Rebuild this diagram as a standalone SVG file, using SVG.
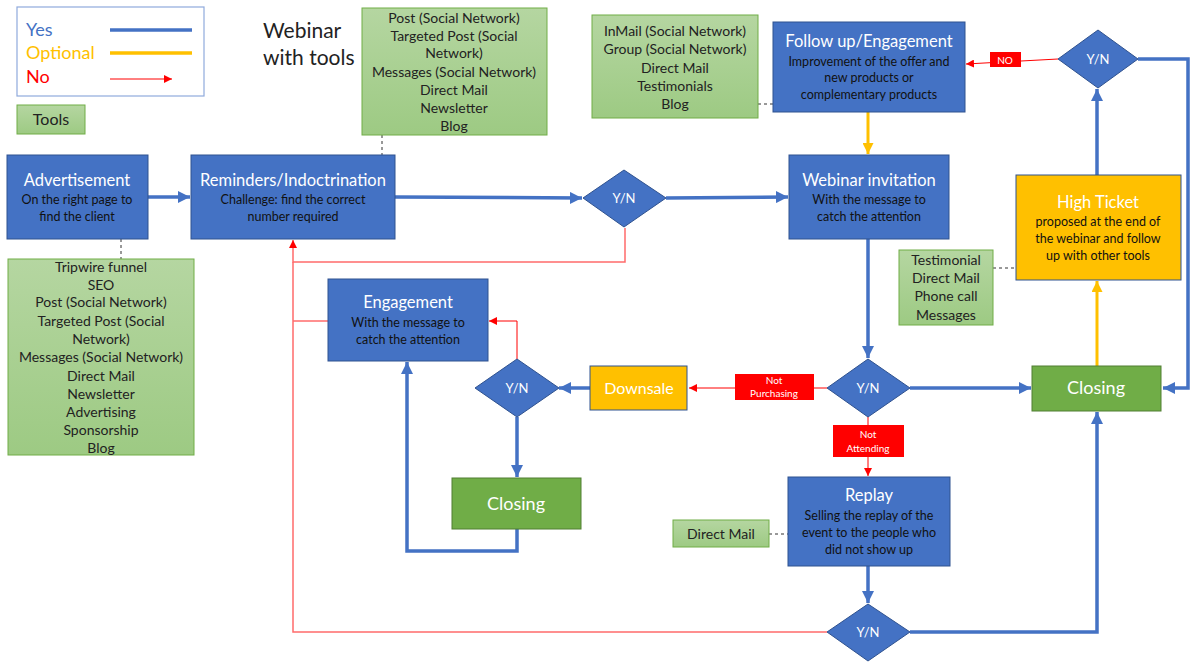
<svg xmlns="http://www.w3.org/2000/svg" width="1195" height="662" viewBox="0 0 1195 662">
<style>
text{font-family:Lato,"Liberation Sans",sans-serif;text-anchor:middle}
.blue{fill:#4472C4;stroke:#2F528F;stroke-width:1}
.green{fill:#70AD47;stroke:#507E32;stroke-width:1}
.yellow{fill:#FFC000;stroke:#2F528F;stroke-width:1}
.tool{fill:url(#tg);stroke:#70AD47;stroke-width:1}
.t{fill:#fff;font-size:16.5px}
.s{fill:#111;font-size:12.5px}
.tt{fill:#222;font-size:14px}
.cb{fill:none;stroke:#4472C4;stroke-width:3.5}
.cy{fill:none;stroke:#FFC000;stroke-width:3}
.cr{fill:none;stroke:#FF0000;stroke-width:1}
.cp{fill:none;stroke:#FF6B6B;stroke-width:1.5}
.dash{fill:none;stroke:#333;stroke-width:1;stroke-dasharray:3,3}
.lab{fill:#FF0000}
.lt{fill:#fff;font-size:10px}
.yn{fill:#fff;font-size:13px}
</style>
<defs>
<linearGradient id="tg" x1="0" y1="0" x2="0" y2="1"><stop offset="0" stop-color="#B5D6A1"/><stop offset="1" stop-color="#9DCA83"/></linearGradient>
<marker id="ab" viewBox="0 0 10 10" refX="10" refY="5" markerWidth="12" markerHeight="12" markerUnits="userSpaceOnUse" orient="auto"><path d="M0,0 L10,5 L0,10 z" fill="#4472C4"/></marker>
<marker id="ay" viewBox="0 0 10 10" refX="10" refY="5" markerWidth="11" markerHeight="11" markerUnits="userSpaceOnUse" orient="auto"><path d="M0,0 L10,5 L0,10 z" fill="#FFC000"/></marker>
<marker id="ar" viewBox="0 0 10 10" refX="10" refY="5" markerWidth="8" markerHeight="8" markerUnits="userSpaceOnUse" orient="auto"><path d="M0,0 L10,5 L0,10 z" fill="#FF0000"/></marker>
</defs>

<g id="legend">
<rect x="17" y="7" width="187" height="89" fill="#fff" stroke="#8FAADC" stroke-width="1.2"/>
<text x="26" y="36" style="text-anchor:start;font-size:18px;fill:#4472C4">Yes</text>
<text x="26" y="59" style="text-anchor:start;font-size:18px;fill:#FFC000">Optional</text>
<text x="26" y="83" style="text-anchor:start;font-size:18px;fill:#FF0000">No</text>
<line x1="110" y1="30" x2="192" y2="30" stroke="#4472C4" stroke-width="3.5"/>
<line x1="110" y1="53" x2="192" y2="53" stroke="#FFC000" stroke-width="3.5"/>
<line x1="110" y1="79" x2="172" y2="79" class="cr" marker-end="url(#ar)"/>
</g>
<g id="legend-tools"><rect x="17" y="105" width="68" height="29" class="tool"/><text x="51" y="125" style="font-size:16px;fill:#222">Tools</text></g>
<g id="title"><text x="263" y="38" style="text-anchor:start;font-size:21px;fill:#222">Webinar</text><text x="263" y="65" style="text-anchor:start;font-size:21px;fill:#222">with tools</text></g>

<g id="connectors">
<line x1="148" y1="197" x2="190" y2="197" class="cb" marker-end="url(#ab)"/>
<line x1="395" y1="197" x2="582" y2="198" class="cb" marker-end="url(#ab)"/>
<line x1="666" y1="198" x2="788" y2="197" class="cb" marker-end="url(#ab)"/>
<polyline points="625,228 625,262 293,262 293,240" class="cp" marker-end="url(#ar)"/>
<polyline points="827,632 293,632 293,262" class="cp"/>
<line x1="293" y1="321" x2="328" y2="321" class="cp"/>
<polyline points="517,359 517,321 489,321" class="cr" marker-end="url(#ar)"/>
<line x1="590" y1="388" x2="559" y2="388" class="cb" marker-end="url(#ab)"/>
<line x1="517" y1="417" x2="517" y2="477" class="cb" marker-end="url(#ab)"/>
<polyline points="517,529 517,551 407,551 407,362" class="cb" marker-end="url(#ab)"/>
<line x1="827" y1="388" x2="689" y2="388" class="cr" marker-end="url(#ar)"/>
<line x1="868" y1="239" x2="868" y2="358" class="cb" marker-end="url(#ab)"/>
<line x1="910" y1="388" x2="1031" y2="388" class="cb" marker-end="url(#ab)"/>
<line x1="868" y1="417" x2="868" y2="476" class="cr" marker-end="url(#ar)"/>
<line x1="868" y1="566" x2="868" y2="603" class="cb" marker-end="url(#ab)"/>
<polyline points="910,632 1097,632 1097,412" class="cb" marker-end="url(#ab)"/>
<line x1="1097" y1="366" x2="1097" y2="281" class="cy" marker-end="url(#ay)"/>
<line x1="1097" y1="175" x2="1097" y2="89" class="cb" marker-end="url(#ab)"/>
<polyline points="1138,59 1188,59 1188,388 1163,388" class="cb" marker-end="url(#ab)"/>
<line x1="1058" y1="59" x2="966" y2="64" class="cr" marker-end="url(#ar)"/>
<line x1="868" y1="112" x2="868" y2="154" class="cy" marker-end="url(#ay)"/>
<line x1="382" y1="135" x2="382" y2="155" class="dash"/>
<line x1="121" y1="239" x2="121" y2="259" class="dash"/>
<line x1="758" y1="104" x2="773" y2="104" class="dash"/>
<line x1="993" y1="268" x2="1016" y2="268" class="dash"/>
<line x1="769" y1="534" x2="788" y2="534" class="dash"/>
</g>

<g id="labels">
<rect x="735" y="374" width="79" height="26" class="lab"/><text x="774" y="384" class="lt">Not</text><text x="774" y="397" class="lt">Purchasing</text>
<rect x="833" y="425" width="71" height="32" class="lab"/><text x="868" y="438" class="lt">Not</text><text x="868" y="452" class="lt">Attending</text>
<rect x="990" y="52" width="31" height="15" class="lab"/><text x="1005" y="63.5" class="lt">NO</text>
</g>

<g id="tools-top">
<rect x="362" y="8" width="185" height="127" class="tool"/>
<text x="454" y="23" class="tt">Post (Social Network)</text>
<text x="454" y="41" class="tt">Targeted Post  (Social</text>
<text x="454" y="58" class="tt">Network)</text>
<text x="454" y="77" class="tt">Messages (Social Network)</text>
<text x="454" y="95" class="tt">Direct Mail</text>
<text x="454" y="113" class="tt">Newsletter</text>
<text x="454" y="131" class="tt">Blog</text>
</g>
<g id="tools-ad">
<rect x="8" y="259" width="186" height="196" class="tool"/>
<text x="101" y="272" class="tt">Tripwire funnel</text>
<text x="101" y="290" class="tt">SEO</text>
<text x="101" y="307" class="tt">Post (Social Network)</text>
<text x="101" y="326" class="tt">Targeted Post  (Social</text>
<text x="101" y="344" class="tt">Network)</text>
<text x="101" y="362" class="tt">Messages (Social Network)</text>
<text x="101" y="381" class="tt">Direct Mail</text>
<text x="101" y="399" class="tt">Newsletter</text>
<text x="101" y="417" class="tt">Advertising</text>
<text x="101" y="435" class="tt">Sponsorship</text>
<text x="101" y="453" class="tt">Blog</text>
</g>
<g id="tools-follow">
<rect x="592" y="15" width="166" height="103" class="tool"/>
<text x="675" y="36" class="tt">InMail (Social Network)</text>
<text x="675" y="54" class="tt">Group  (Social Network)</text>
<text x="675" y="73" class="tt">Direct Mail</text>
<text x="675" y="91" class="tt">Testimonials</text>
<text x="675" y="109" class="tt">Blog</text>
</g>
<g id="tools-high">
<rect x="899" y="250" width="94" height="75" class="tool"/>
<text x="946" y="265" class="tt">Testimonial</text>
<text x="946" y="283" class="tt">Direct Mail</text>
<text x="946" y="301" class="tt">Phone call</text>
<text x="946" y="320" class="tt">Messages</text>
</g>
<g id="tools-replay"><rect x="673" y="520" width="96" height="27" class="tool"/><text x="721" y="539" class="tt">Direct Mail</text></g>

<g id="advertisement"><rect x="7" y="155" width="141" height="84" class="blue"/><text x="77" y="186" class="t">Advertisement</text><text x="77" y="204" class="s">On the right page to</text><text x="77" y="221" class="s">find the client</text></g>
<g id="reminders"><rect x="191" y="155" width="204" height="84" class="blue"/><text x="293" y="186" class="t">Reminders/Indoctrination</text><text x="293" y="204" class="s">Challenge: find the correct</text><text x="293" y="221" class="s">number required</text></g>
<g id="yn1"><polygon points="583,198 624,170 666,198 624,227" class="blue"/><text x="624" y="203" class="yn">Y/N</text></g>
<g id="webinar-invitation"><rect x="789" y="155" width="160" height="84" class="blue"/><text x="869" y="186" class="t">Webinar invitation</text><text x="869" y="204" class="s">With the message to</text><text x="869" y="221" class="s">catch the attention</text></g>
<g id="follow-up"><rect x="773" y="22" width="192" height="90" class="blue"/><text x="869" y="47" class="t">Follow up/Engagement</text><text x="869" y="66" class="s">Improvement of the offer and</text><text x="869" y="82" class="s">new products or</text><text x="869" y="99" class="s">complementary products</text></g>
<g id="yn5"><polygon points="1058,59 1098,30 1138,59 1098,88" class="blue"/><text x="1098" y="64" class="yn">Y/N</text></g>
<g id="high-ticket"><rect x="1016" y="175" width="165" height="105" class="yellow"/><text x="1098" y="208" class="t">High Ticket</text><text x="1098" y="226" class="s">proposed at the end of</text><text x="1098" y="243" class="s">the webinar and follow</text><text x="1098" y="260" class="s">up with other tools</text></g>
<g id="engagement"><rect x="328" y="279" width="160" height="82" class="blue"/><text x="408" y="308" class="t">Engagement</text><text x="408" y="327" class="s">With the message to</text><text x="408" y="344" class="s">catch the attention</text></g>
<g id="yn2"><polygon points="475,388 517,359 559,388 517,417" class="blue"/><text x="517" y="393" class="yn">Y/N</text></g>
<g id="downsale"><rect x="590" y="366" width="97" height="44" class="yellow"/><text x="639" y="394" class="t" style="font-size:16px">Downsale</text></g>
<g id="yn3"><polygon points="827,388 868,359 910,388 868,417" class="blue"/><text x="868" y="393" class="yn">Y/N</text></g>
<g id="closing1"><rect x="1032" y="366" width="129" height="45" class="green"/><text x="1096" y="394" class="t" style="font-size:18px">Closing</text></g>
<g id="closing2"><rect x="452" y="478" width="129" height="51" class="green"/><text x="516" y="510" class="t" style="font-size:18px">Closing</text></g>
<g id="replay"><rect x="788" y="477" width="162" height="89" class="blue"/><text x="869" y="501" class="t">Replay</text><text x="869" y="520" class="s">Selling the replay of the</text><text x="869" y="537" class="s">event to the people who</text><text x="869" y="554" class="s">did not show up</text></g>
<g id="yn4"><polygon points="827,632 868,604 910,632 868,661" class="blue"/><text x="868" y="637" class="yn">Y/N</text></g>
</svg>
